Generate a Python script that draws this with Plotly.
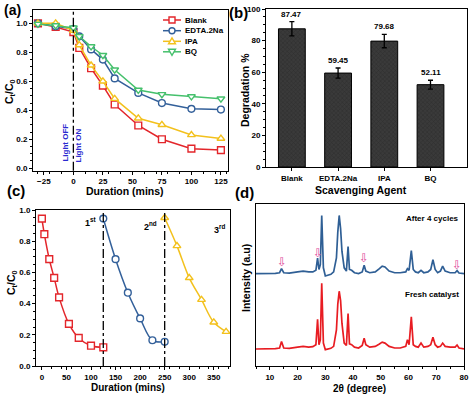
import plotly.graph_objects as go

W, H = 474, 395
FONT = "Liberation Sans"

# ---------- Panel (a) data ----------
time_a = [-30, -15, 0, 5, 15, 25, 35, 55, 75, 100, 125]
blank_a = [1.0, 0.975, 0.94, 0.83, 0.69, 0.57, 0.44, 0.295, 0.20, 0.135, 0.125]
edta_a = [1.0, 0.98, 0.96, 0.91, 0.82, 0.75, 0.62, 0.52, 0.45, 0.41, 0.405]
ipa_a = [1.0, 1.0, 0.95, 0.85, 0.71, 0.60, 0.48, 0.345, 0.30, 0.23, 0.205]
bq_a = [0.995, 0.985, 0.97, 0.91, 0.84, 0.78, 0.68, 0.54, 0.51, 0.495, 0.48]
series_names = ["Blank", "EDTA.2Na", "IPA", "BQ"]

# ---------- Panel (b) data ----------
agents = ["Blank", "EDTA.2Na", "IPA", "BQ"]
degradation = [87.47, 59.45, 79.68, 52.11]
deg_err = [4.5, 3.2, 4.2, 2.8]

# ---------- Panel (c) data ----------
t_c1 = [0, 5, 15, 25, 35, 55, 75, 100, 125]
y_c1 = [0.945, 0.845, 0.685, 0.565, 0.44, 0.27, 0.18, 0.13, 0.12]
t_c2 = [125, 150, 175, 200, 225, 250]
y_c2 = [0.945, 0.685, 0.47, 0.305, 0.165, 0.155]
t_c3 = [250, 275, 300, 325, 350, 375]
y_c3 = [0.95, 0.77, 0.565, 0.425, 0.28, 0.22]
cycle_labels = ["1<sup>st</sup>", "2<sup>nd</sup>", "3<sup>rd</sup>"]
cycle_label_x = [100, 222, 362]
cycle_label_y = [0.92, 0.9, 0.88]

# ---------- Panel (d) data ----------
two_theta = [5, 8, 10, 12, 13.5, 14.2, 15, 17, 20, 22, 24, 25.5, 26.6, 27.2, 27.7, 28.2,
             28.7, 29.3, 30, 31, 32, 33, 34, 34.5, 35, 35.5, 36, 36.8, 37.6, 38.2, 38.7,
             39.5, 40.5, 42, 43.3, 44, 44.6, 46, 48, 49.5, 50.5, 51.5, 53, 55, 57, 59,
             59.6, 60.2, 61, 61.7, 62.5, 63.5, 64.5, 65.5, 67, 68, 68.8, 69.6, 70.5, 71.5,
             72.3, 73.2, 75, 76.8, 77.5, 78.2, 80]
after_cycles = [56.5, 56.5, 56.5, 56.6, 57, 59.5, 57, 56.8, 57.5, 58, 57.5, 57.5, 58.5, 66,
                59, 62, 92, 60, 55, 55.5, 56, 57.5, 66, 82, 92, 84, 70, 60, 58, 73, 59,
                58.5, 57, 56.5, 57.5, 61.5, 58, 57, 57.5, 59.5, 61, 60.5, 58, 57, 57, 57.5,
                59.5, 58.5, 70.5, 59, 57.5, 57, 58.5, 57, 57.5, 59, 65, 59, 57, 58,
                61, 58, 57, 57, 58.3, 56.8, 56.5]
fresh = [10.4, 10.4, 10.5, 10.6, 11, 15, 11, 10.8, 11.5, 12, 11.5, 11.8, 13, 28.5,
         13, 16, 50.5, 14, 10, 10.2, 10.8, 12, 22, 38, 45.7, 40, 26, 14, 12.5, 32, 13.5,
         13, 11.5, 11, 12.5, 17, 13, 11.5, 12, 13.5, 14.6, 14, 12, 11, 11, 12,
         16, 13, 30, 13, 12, 11.5, 14, 11.5, 12, 13, 17.5, 13, 11.5, 12,
         14, 12, 11.5, 11.5, 12.8, 11, 10.5]
arrow_theta = [14.2, 27.2, 44.0, 77.5]
arrow_int = [63.6, 69.0, 65.8, 62.0]

RED = "#e3262b"
BLUE = "#33609a"
YEL = "#f3c11d"
GRN = "#45c06c"
BLUE_D = "#2f5f95"
RED_D = "#e81c22"
MS = 6.8


def px2x(px):
    return px / W


def py2y(py):
    return 1 - py / H


fig = go.Figure()

# Panel (a)
series_a = [(series_names[0], blank_a, RED, "square"),
            (series_names[1], edta_a, BLUE, "circle"),
            (series_names[2], ipa_a, YEL, "triangle-up"),
            (series_names[3], bq_a, GRN, "triangle-down")]
for name, ys, col, sym in series_a:
    fig.add_trace(go.Scatter(
        x=time_a, y=ys, name=name, mode="lines+markers",
        line=dict(color=col, width=1.5),
        marker=dict(symbol=sym, size=MS, color="white", line=dict(color=col, width=1.4)),
        xaxis="x", yaxis="y", showlegend=False))

# Panel (b)
fig.add_trace(go.Bar(
    x=agents, y=degradation, width=0.58,
    error_y=dict(type="data", array=deg_err, color="black", thickness=1.3, width=2.5),
    marker=dict(color="#3a3a3a", line=dict(color="black", width=1),
                pattern=dict(shape="x", fgcolor="#222222", size=3, solidity=0.35)),
    xaxis="x2", yaxis="y2", showlegend=False))

# Panel (c)
for xs, ys, col, sym in [(t_c1, y_c1, RED, "square"), (t_c2, y_c2, BLUE, "circle"),
                         (t_c3, y_c3, YEL, "triangle-up")]:
    fig.add_trace(go.Scatter(
        x=xs, y=ys, mode="lines+markers",
        line=dict(color=col, width=1.5, shape="spline"),
        marker=dict(symbol=sym, size=MS, color="white", line=dict(color=col, width=1.4)),
        xaxis="x3", yaxis="y3", showlegend=False, cliponaxis=False))

# Panel (d)
fig.add_trace(go.Scatter(x=two_theta, y=after_cycles, mode="lines",
                         line=dict(color=BLUE_D, width=1.7),
                         xaxis="x4", yaxis="y4", showlegend=False))
fig.add_trace(go.Scatter(x=two_theta, y=fresh, mode="lines",
                         line=dict(color=RED_D, width=1.7),
                         xaxis="x4", yaxis="y4", showlegend=False))

tickf = dict(family=FONT, size=8, color="black", weight="bold")
common = dict(showline=True, linecolor="black", linewidth=1, mirror=True,
              ticks="outside", ticklen=3, tickwidth=1, tickcolor="black",
              showgrid=False, zeroline=False, tickfont=tickf, automargin=False,
              minor=dict(ticks="outside", ticklen=2, tickcolor="black"))
nominor = {k: v for k, v in common.items() if k != "minor"}

fig.update_layout(
    width=W, height=H, margin=dict(l=0, r=0, t=0, b=0),
    paper_bgcolor="white", plot_bgcolor="white",
    font=dict(family=FONT, color="black"),
    showlegend=False,
    xaxis=dict(domain=[px2x(33), px2x(228)], range=[-34.2, 131], anchor="y",
               tickvals=[-25, 0, 25, 50, 75, 100, 125], **common),
    yaxis=dict(domain=[py2y(170.7), py2y(10)], range=[-0.017, 1.092], anchor="x",
               tickvals=[0, 0.2, 0.4, 0.6, 0.8, 1.0], tickformat=".1f", **common),
    xaxis2=dict(domain=[px2x(266), px2x(467)], range=[-0.56, 3.79], anchor="y2",
                type="category", **nominor),
    yaxis2=dict(domain=[py2y(167), py2y(9)], range=[0, 100], anchor="x2",
                tickvals=[0, 20, 40, 60, 80, 100], **common),
    xaxis3=dict(domain=[px2x(36), px2x(230)], range=[-12, 383], anchor="y3",
                tickvals=[0, 50, 100, 150, 200, 250, 300, 350], **common),
    yaxis3=dict(domain=[py2y(366), py2y(210)], range=[0, 1.0], anchor="x3",
                tickvals=[0, 0.2, 0.4, 0.6, 0.8, 1.0], tickformat=".1f", **common),
    xaxis4=dict(domain=[px2x(256), px2x(464)], range=[5, 80], anchor="y4",
                tickvals=[10, 20, 30, 40, 50, 60, 70, 80], **common),
    yaxis4=dict(domain=[py2y(366), py2y(204)], range=[0, 99], anchor="x4",
                showline=True, linecolor="black", linewidth=1, mirror=True, automargin=False,
                showticklabels=False, ticks="", showgrid=False, zeroline=False),
)

# dash-dot vertical lines
fig.add_shape(type="line", xref="x", yref="y domain", x0=0, x1=0, y0=0, y1=1,
              line=dict(color="black", width=1.3, dash="dashdot"))
for xv in [125, 250]:
    fig.add_shape(type="line", xref="x3", yref="y3 domain", x0=xv, x1=xv, y0=0, y1=1,
                  line=dict(color="black", width=1.3, dash="dashdot"))

ann = []


def add_ann(**kw):
    kw.setdefault("xanchor", "center")
    kw.setdefault("yanchor", "middle")
    kw.setdefault("showarrow", False)
    ann.append(kw)


# manual legend for panel (a)
leg_rows = [20, 30.7, 41.3, 51.8]
r = 3.0
for (name, ys, col, sym), ry in zip(series_a, leg_rows):
    yy = py2y(ry)
    fig.add_shape(type="line", xref="paper", yref="paper", x0=px2x(163), x1=px2x(181),
                  y0=yy, y1=yy, line=dict(color=col, width=1.5))
    cx = 172
    if sym == "square":
        fig.add_shape(type="rect", xref="paper", yref="paper", x0=px2x(cx - r), x1=px2x(cx + r),
                      y0=py2y(ry + r), y1=py2y(ry - r), fillcolor="white",
                      line=dict(color=col, width=1.4))
    elif sym == "circle":
        fig.add_shape(type="circle", xref="paper", yref="paper", x0=px2x(cx - r), x1=px2x(cx + r),
                      y0=py2y(ry + r), y1=py2y(ry - r), fillcolor="white",
                      line=dict(color=col, width=1.4))
    elif sym == "triangle-up":
        p = "M %f %f L %f %f L %f %f Z" % (px2x(cx - r - 0.5), py2y(ry + r - 0.5), px2x(cx + r + 0.5),
                                           py2y(ry + r - 0.5), px2x(cx), py2y(ry - r - 0.5))
        fig.add_shape(type="path", xref="paper", yref="paper", path=p, fillcolor="white",
                      line=dict(color=col, width=1.4))
    else:
        p = "M %f %f L %f %f L %f %f Z" % (px2x(cx - r - 0.5), py2y(ry - r + 0.5), px2x(cx + r + 0.5),
                                           py2y(ry - r + 0.5), px2x(cx), py2y(ry + r + 0.5))
        fig.add_shape(type="path", xref="paper", yref="paper", path=p, fillcolor="white",
                      line=dict(color=col, width=1.4))
    add_ann(x=px2x(183), y=yy, xref="paper", yref="paper", xanchor="left",
            text="<b>%s</b>" % name, font=dict(family=FONT, size=8, color="black"))

# Light OFF / ON
add_ann(x=-6.5, y=0.175, xref="x", yref="y", text="<b>Light OFF</b>", textangle=-90,
        font=dict(family=FONT, size=8, color="#2a2ad0"))
add_ann(x=4.3, y=0.16, xref="x", yref="y", text="<b>Light ON</b>", textangle=-90,
        font=dict(family=FONT, size=8, color="#2a2ad0"))
# bar labels
for a, v, e in zip(agents, degradation, deg_err):
    add_ann(x=a, y=v + e, xref="x2", yref="y2", text="<b>%.2f</b>" % v,
            yanchor="bottom", yshift=1, font=dict(family=FONT, size=8, color="black"))
# cycle labels
for t, xv, yv in zip(cycle_labels, cycle_label_x, cycle_label_y):
    add_ann(x=xv, y=yv, xref="x3", yref="y3", text="<b>%s</b>" % t,
            font=dict(family=FONT, size=9, color="black"))
# XRD arrows
for xv, yv in zip(arrow_theta, arrow_int):
    add_ann(x=xv, y=yv, xref="x4", yref="y4", text="⇩",
            font=dict(family="DejaVu Sans", size=12, color="#e0489a"))
add_ann(x=px2x(461), y=py2y(218), xref="paper", yref="paper", xanchor="right",
        text="<b>After 4 cycles</b>", font=dict(family=FONT, size=8, color="black"))
add_ann(x=px2x(461), y=py2y(294), xref="paper", yref="paper", xanchor="right",
        text="<b>Fresh catalyst</b>", font=dict(family=FONT, size=8, color="black"))


def title(text, x, y, angle=0, size=10.5):
    add_ann(x=px2x(x), y=py2y(y), xref="paper", yref="paper", text="<b>%s</b>" % text,
            textangle=angle, font=dict(family=FONT, size=size, color="black"))


title("Duration (mins)", 125, 191)
title("C<sub>t</sub>/C<sub>0</sub>", 10, 92, -90)
title("Degradation %", 245, 90, -90)
title("Scavenging Agent", 361, 190)
title("Duration (mins)", 128, 387.5, 0, 10)
title("C<sub>t</sub>/C<sub>0</sub>", 12, 283, -90)
title("2θ (degree)", 359, 388, 0, 10)
title("Intensity (a.u)", 246, 278, -90)
# panel letters
title("(a)", 12, 10, 0, 14)
title("(b)", 239, 12, 0, 15)
title("(c)", 16, 190, 0, 15)
title("(d)", 244, 193, 0, 15)

fig.update_layout(annotations=ann)
fig.write_html("out.html", config={"displayModeBar": False},
               post_script="document.body.style.margin='0';document.body.style.padding='0';")
